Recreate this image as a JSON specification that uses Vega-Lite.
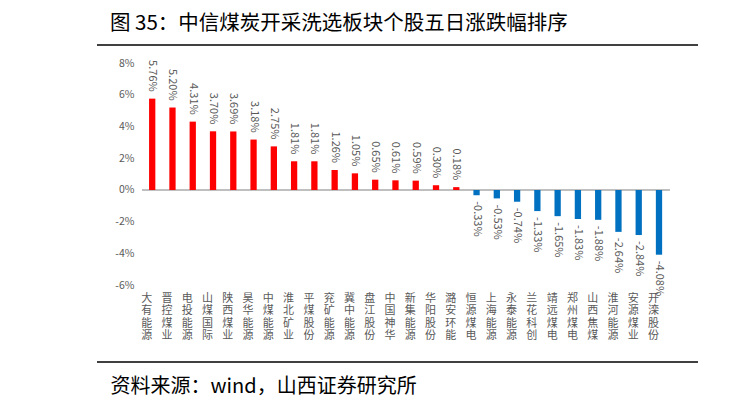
{
  "$schema": "https://vega.github.io/schema/vega-lite/v6.json",
  "width": 601,
  "height": 317,
  "autosize": {"type": "none"},
  "padding": {"left": 97, "top": 45, "right": 39, "bottom": 47},
  "background": "white",
  "config": {"view": {"stroke": null}, "font": "Noto Sans CJK SC"},
  "title": {
    "text": "图 35：中信煤炭开采洗选板块个股五日涨跌幅排序",
    "anchor": "start",
    "frame": "group",
    "dx": 13,
    "offset": 10,
    "fontSize": 20.5,
    "fontWeight": "normal",
    "color": "#000000",
    "font": "Noto Sans CJK SC"
  },
  "data": {
    "values": [
      {"name": "大有能源", "value": 5.76, "label": "5.76%"},
      {"name": "晋控煤业", "value": 5.20, "label": "5.20%"},
      {"name": "电投能源", "value": 4.31, "label": "4.31%"},
      {"name": "山煤国际", "value": 3.70, "label": "3.70%"},
      {"name": "陕西煤业", "value": 3.69, "label": "3.69%"},
      {"name": "昊华能源", "value": 3.18, "label": "3.18%"},
      {"name": "中煤能源", "value": 2.75, "label": "2.75%"},
      {"name": "淮北矿业", "value": 1.81, "label": "1.81%"},
      {"name": "平煤股份", "value": 1.81, "label": "1.81%"},
      {"name": "兖矿能源", "value": 1.26, "label": "1.26%"},
      {"name": "冀中能源", "value": 1.05, "label": "1.05%"},
      {"name": "盘江股份", "value": 0.65, "label": "0.65%"},
      {"name": "中国神华", "value": 0.61, "label": "0.61%"},
      {"name": "新集能源", "value": 0.59, "label": "0.59%"},
      {"name": "华阳股份", "value": 0.30, "label": "0.30%"},
      {"name": "潞安环能", "value": 0.18, "label": "0.18%"},
      {"name": "恒源煤电", "value": -0.33, "label": "-0.33%"},
      {"name": "上海能源", "value": -0.53, "label": "-0.53%"},
      {"name": "永泰能源", "value": -0.74, "label": "-0.74%"},
      {"name": "兰花科创", "value": -1.33, "label": "-1.33%"},
      {"name": "靖远煤电", "value": -1.65, "label": "-1.65%"},
      {"name": "郑州煤电", "value": -1.83, "label": "-1.83%"},
      {"name": "山西焦煤", "value": -1.88, "label": "-1.88%"},
      {"name": "淮河能源", "value": -2.64, "label": "-2.64%"},
      {"name": "安源煤业", "value": -2.84, "label": "-2.84%"},
      {"name": "开滦股份", "value": -4.08, "label": "-4.08%"}
    ]
  },
  "layer": [
    {
      "mark": {"type": "rule", "color": "#BFBFBF", "strokeWidth": 1.5},
      "encoding": {
        "y": {"datum": 0, "type": "quantitative"},
        "x": {"datum": "大有能源", "type": "nominal", "bandPosition": -1.113},
        "x2": {"datum": "开滦股份", "bandPosition": 2.12}
      }
    },
    {
      "mark": {"type": "bar"},
      "encoding": {
        "x": {
          "field": "name",
          "type": "nominal",
          "sort": null,
          "scale": {
            "domain": ["大有能源", "晋控煤业", "电投能源", "山煤国际", "陕西煤业", "昊华能源", "中煤能源", "淮北矿业", "平煤股份", "兖矿能源", "冀中能源", "盘江股份", "中国神华", "新集能源", "华阳股份", "潞安环能", "恒源煤电", "上海能源", "永泰能源", "兰花科创", "靖远煤电", "郑州煤电", "山西焦煤", "淮河能源", "安源煤业", "开滦股份"],
            "range": [52.06, 565.14],
            "paddingInner": 0.69,
            "paddingOuter": 0
          },
          "axis": {
            "offset": -66,
            "domain": false,
            "ticks": false,
            "tickSize": 0,
            "labelAngle": 0,
            "labelPadding": 2,
            "labelExpr": "split(datum.label, '')",
            "labelFontSize": 11,
            "labelLineHeight": 12.5,
            "labelColor": "#595959",
            "labelFont": "Noto Sans CJK SC",
            "title": "资料来源：wind，山西证券研究所",
            "titleAnchor": "start",
            "titleAlign": "left",
            "titleX": 13,
            "titleY": 96,
            "titleBaseline": "alphabetic",
            "titleFontSize": 20,
            "titleFontWeight": "normal",
            "titleColor": "#000000",
            "titleFont": "Noto Sans CJK SC"
          }
        },
        "y": {
          "field": "value",
          "type": "quantitative",
          "scale": {"domain": [-10.845, 9.142], "nice": false, "zero": false},
          "axis": {
            "values": [-6, -4, -2, 0, 2, 4, 6, 8],
            "labelExpr": "datum.value + '%'",
            "grid": false,
            "domain": false,
            "ticks": false,
            "tickSize": 0,
            "labelPadding": -37,
            "labelFontSize": 10.5,
            "labelColor": "#595959",
            "labelFont": "Noto Sans CJK SC",
            "title": null
          }
        },
        "color": {
          "condition": {"test": "datum.value >= 0", "value": "#FF0000"},
          "value": "#0070C0"
        }
      }
    },
    {
      "transform": [{"filter": "datum.value >= 0"}],
      "mark": {"type": "text", "angle": 90, "align": "right", "baseline": "middle", "dx": -7, "fontSize": 11, "color": "#595959", "font": "Noto Sans CJK SC"},
      "encoding": {
        "x": {"field": "name", "type": "nominal", "sort": null},
        "y": {"field": "value", "type": "quantitative"},
        "text": {"field": "label"}
      }
    },
    {
      "transform": [{"filter": "datum.value < 0"}],
      "mark": {"type": "text", "angle": 90, "align": "left", "baseline": "middle", "dx": 6, "fontSize": 11, "color": "#595959", "font": "Noto Sans CJK SC"},
      "encoding": {
        "x": {"field": "name", "type": "nominal", "sort": null},
        "y": {"field": "value", "type": "quantitative"},
        "text": {"field": "label"}
      }
    },
    {
      "mark": {"type": "rule", "color": "#404040", "strokeWidth": 1.5},
      "encoding": {"y": {"datum": 9.142, "type": "quantitative"}}
    },
    {
      "mark": {"type": "rule", "color": "#404040", "strokeWidth": 1.5},
      "encoding": {"y": {"datum": -10.845, "type": "quantitative"}}
    }
  ]
}
